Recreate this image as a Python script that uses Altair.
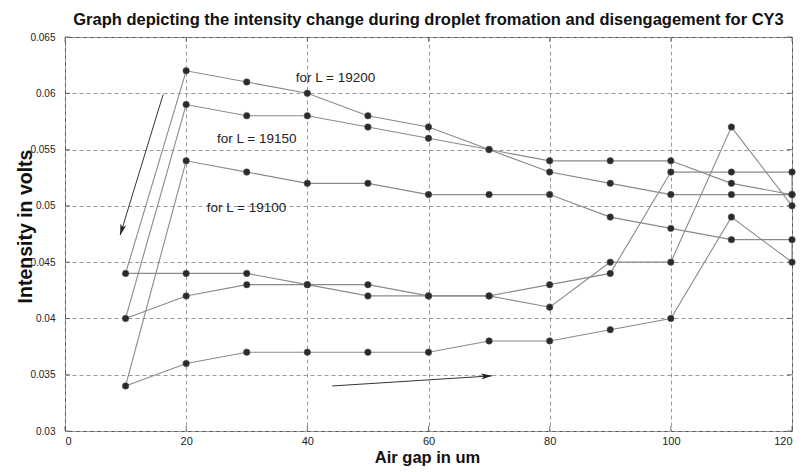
import altair as alt
import pandas as pd

# ---- data ----
gap_lower = [10, 20, 30, 40, 50, 60, 70, 80, 90, 100, 110, 120]   # forward sweep
gap_upper = [120, 110, 100, 90, 80, 70, 60, 50, 40, 30, 20]       # return sweep

series_names = ["L = 19200", "L = 19150", "L = 19100"]

l19200_lower = [0.044, 0.044, 0.044, 0.043, 0.043, 0.042, 0.042, 0.043, 0.044, 0.053, 0.053, 0.053]
l19200_upper = [0.051, 0.051, 0.051, 0.052, 0.053, 0.055, 0.057, 0.058, 0.060, 0.061, 0.062]

l19150_lower = [0.040, 0.042, 0.043, 0.043, 0.042, 0.042, 0.042, 0.041, 0.045, 0.045, 0.057, 0.050]
l19150_upper = [0.051, 0.052, 0.054, 0.054, 0.054, 0.055, 0.056, 0.057, 0.058, 0.058, 0.059]

l19100_lower = [0.034, 0.036, 0.037, 0.037, 0.037, 0.037, 0.038, 0.038, 0.039, 0.040, 0.049, 0.045]
l19100_upper = [0.047, 0.047, 0.048, 0.049, 0.051, 0.051, 0.051, 0.052, 0.052, 0.053, 0.054]

x_ticks = [0, 20, 40, 60, 80, 100, 120]
y_ticks = [0.03, 0.035, 0.04, 0.045, 0.05, 0.055, 0.06, 0.065]

label_text = ["for L = 19200", "for L = 19150", "for L = 19100"]
label_x = [38.1, 25.1, 23.4]
label_y = [0.0614, 0.0559, 0.0498]

arrow_x0 = [16.2, 44.1]
arrow_y0 = [0.0599, 0.0340]
arrow_x1 = [9.1, 70.5]
arrow_y1 = [0.0474, 0.0349]
arrow_angle = [197, 86]

# ---- tables ----
rows = []
for name, lo, up in zip(series_names,
                        [l19200_lower, l19150_lower, l19100_lower],
                        [l19200_upper, l19150_upper, l19100_upper]):
    xs = gap_lower + gap_upper + [gap_lower[0]]
    ys = lo + up + [lo[0]]
    for i, (gx, vy) in enumerate(zip(xs, ys)):
        rows.append({"series": name, "step": i, "gap": gx, "volts": vy,
                     "closing": i == len(xs) - 1})
df = pd.DataFrame(rows)
df_pts = df[~df["closing"]]

df_lab = pd.DataFrame({"gap": label_x, "volts": label_y, "text": label_text})
df_arr = pd.DataFrame({"gap": arrow_x0, "volts": arrow_y0,
                       "gap2": arrow_x1, "volts2": arrow_y1, "angle": arrow_angle})

ymin, ymax = y_ticks[0], y_ticks[-1]
xmin, xmax = x_ticks[0], x_ticks[-1]
df_xt = pd.DataFrame({"gap": x_ticks * 2,
                      "volts": [ymin] * len(x_ticks) + [ymax] * len(x_ticks),
                      "side": ["b"] * len(x_ticks) + ["t"] * len(x_ticks)})
df_yt = pd.DataFrame({"volts": y_ticks * 2,
                      "gap": [xmin] * len(y_ticks) + [xmax] * len(y_ticks),
                      "side": ["l"] * len(y_ticks) + ["r"] * len(y_ticks)})

xscale = alt.Scale(domain=[0, 120], nice=False, zero=False)
yscale = alt.Scale(domain=[0.03, 0.065], nice=False, zero=False)

xaxis = alt.Axis(values=x_ticks, title="Air gap in um", labelFontSize=11,
                 labelPadding=4, titleFontSize=16.5, titleX=362, titleY=31,
                 titleBaseline="alphabetic", titleAlign="center")
yaxis = alt.Axis(values=y_ticks, format=".3~f", title="Intensity in volts",
                 labelFontSize=10, labelPadding=10, titleFontSize=19.5,
                 titleX=-40, titleY=189, titleAngle=270, titleAlign="center",
                 titleBaseline="middle")

X = alt.X("gap:Q", scale=xscale, axis=xaxis)
Y = alt.Y("volts:Q", scale=yscale, axis=yaxis)

lines = alt.Chart(df).mark_line(color="#8a8a8a", strokeWidth=1.1).encode(
    x=X, y=Y, detail="series:N", order="step:Q")

points = alt.Chart(df_pts).mark_circle(size=42, color="#2a2a2a", opacity=1,
                                       stroke="#555555", strokeWidth=0.6).encode(x=X, y=Y)

labels = alt.Chart(df_lab).mark_text(align="left", baseline="middle",
                                     font="Liberation Sans", fontSize=13.5,
                                     color="#222222").encode(x=X, y=Y, text="text:N")

arrow_lines = alt.Chart(df_arr).mark_rule(color="#333333", strokeWidth=1).encode(
    x=X, y=Y, x2="gap2:Q", y2="volts2:Q")

arrow_heads = alt.Chart(df_arr).mark_point(
    shape="M0,0 L0.55,2 L0,1.5 L-0.55,2 Z", filled=True, color="#222222",
    opacity=1, size=121).encode(
    x=alt.X("gap2:Q", scale=xscale, axis=xaxis),
    y=alt.Y("volts2:Q", scale=yscale, axis=yaxis),
    angle=alt.Angle("angle:Q", scale=None))

# inner (MATLAB-style) tick marks on all four sides
xt_b = alt.Chart(df_xt[df_xt.side == "b"]).mark_tick(
    orient="vertical", size=5, thickness=1, color="#444444", yOffset=-2.5).encode(x=X, y=Y)
xt_t = alt.Chart(df_xt[df_xt.side == "t"]).mark_tick(
    orient="vertical", size=5, thickness=1, color="#444444", yOffset=2.5).encode(x=X, y=Y)
yt_l = alt.Chart(df_yt[df_yt.side == "l"]).mark_tick(
    orient="horizontal", size=5, thickness=1, color="#444444", xOffset=2.5).encode(x=X, y=Y)
yt_r = alt.Chart(df_yt[df_yt.side == "r"]).mark_tick(
    orient="horizontal", size=5, thickness=1, color="#444444", xOffset=-2.5).encode(x=X, y=Y)

chart = alt.layer(lines, points, labels, arrow_lines, arrow_heads,
                  xt_b, xt_t, yt_l, yt_r).properties(
    width=727, height=394,
    autosize=alt.AutoSizeParams(type="none"),
    padding={"left": 57, "top": 29, "right": 4, "bottom": 40},
    title=alt.Title("Graph depicting the intensity change during droplet fromation and disengagement for CY3",
                    fontSize=16.5, fontWeight="bold", font="Liberation Sans",
                    color="#111111", anchor="middle", offset=4),
).configure_view(stroke="#555555", strokeWidth=1).configure_axis(
    grid=True, gridDash=[4, 3], gridColor="#9a9a9a", gridOpacity=1, gridWidth=1,
    domain=False, ticks=False, labelFont="Liberation Sans", labelColor="#222222",
    titleFont="Liberation Sans", titleFontWeight="bold", titleColor="#111111")

chart.save("out.html", embed_options={"renderer": "svg", "actions": False})
